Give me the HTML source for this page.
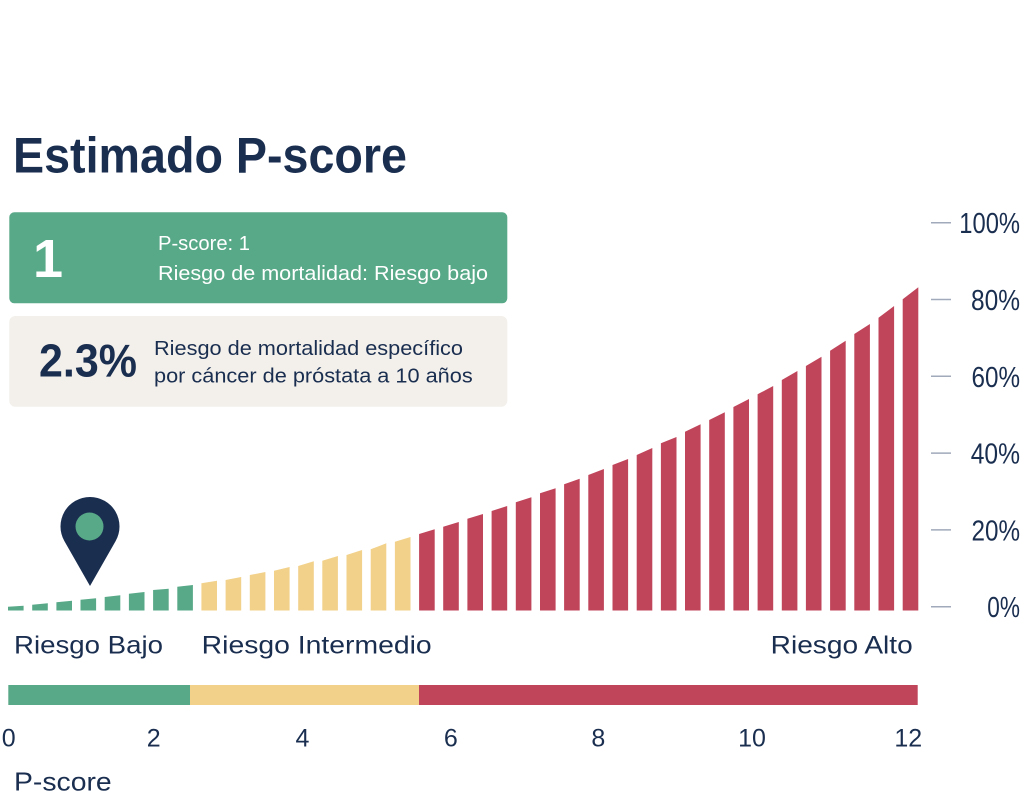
<!DOCTYPE html>
<html>
<head>
<meta charset="utf-8">
<style>
  html,body{margin:0;padding:0;background:#ffffff;}
  svg{display:block;}
  text{font-family:"Liberation Sans", sans-serif;}
</style>
</head>
<body>
<svg width="1024" height="802" viewBox="0 0 1024 802" xmlns="http://www.w3.org/2000/svg">
  <rect x="0" y="0" width="1024" height="802" fill="#ffffff"/>

  <!-- Title -->
  <text x="13" y="172.7" font-size="50" font-weight="bold" fill="#1a2e50" textLength="394" lengthAdjust="spacingAndGlyphs">Estimado P-score</text>

  <!-- Green box -->
  <rect x="9.3" y="212.3" width="498" height="91" rx="5" fill="#58a988"/>
  <text x="33" y="277" font-size="54" font-weight="bold" fill="#ffffff">1</text>
  <text x="158" y="250" font-size="20" fill="#ffffff" textLength="92" lengthAdjust="spacingAndGlyphs">P-score: 1</text>
  <text x="158" y="280" font-size="20" fill="#ffffff" textLength="330" lengthAdjust="spacingAndGlyphs">Riesgo de mortalidad: Riesgo bajo</text>

  <!-- Beige box -->
  <rect x="9.3" y="316" width="498" height="90.7" rx="6" fill="#f3f0eb"/>
  <text x="39" y="376.7" font-size="46" font-weight="bold" fill="#1a2e50" textLength="98" lengthAdjust="spacingAndGlyphs">2.3%</text>
  <text x="154" y="355" font-size="20" fill="#1a2e50" textLength="309" lengthAdjust="spacingAndGlyphs">Riesgo de mortalidad específico</text>
  <text x="154" y="382.7" font-size="20" fill="#1a2e50" textLength="318.7" lengthAdjust="spacingAndGlyphs">por cáncer de próstata a 10 años</text>

  <!-- Right axis ticks -->
  <g stroke="#a0aabb" stroke-width="1.5">
    <line x1="931" y1="222.7" x2="951" y2="222.7"/>
    <line x1="931" y1="299.5" x2="951" y2="299.5"/>
    <line x1="931" y1="376.3" x2="951" y2="376.3"/>
    <line x1="931" y1="453.1" x2="951" y2="453.1"/>
    <line x1="931" y1="529.9" x2="951" y2="529.9"/>
    <line x1="931" y1="606.7" x2="951" y2="606.7"/>
  </g>
  <g font-size="29" fill="#1a2e50" text-anchor="end">
    <text x="1020" y="233.2" textLength="60.7" lengthAdjust="spacingAndGlyphs">100%</text>
    <text x="1020" y="310" textLength="49" lengthAdjust="spacingAndGlyphs">80%</text>
    <text x="1020" y="386.8" textLength="48.5" lengthAdjust="spacingAndGlyphs">60%</text>
    <text x="1020" y="463.6" textLength="49.3" lengthAdjust="spacingAndGlyphs">40%</text>
    <text x="1020" y="540.4" textLength="48.5" lengthAdjust="spacingAndGlyphs">20%</text>
    <text x="1020" y="617.2" textLength="32.7" lengthAdjust="spacingAndGlyphs">0%</text>
  </g>

  <!-- Bars: green -->
  <g fill="#58a988">
    <polygon points="8,610.5 8,606.7 23.6,605.7 23.6,610.5"/>
    <polygon points="32.2,610.5 32.2,604.7 47.8,603.3 47.8,610.5"/>
    <polygon points="56.4,610.5 56.4,602.3 72,600.7 72,610.5"/>
    <polygon points="80.5,610.5 80.5,599.7 96.1,598.3 96.1,610.5"/>
    <polygon points="104.7,610.5 104.7,597 120.3,595.3 120.3,610.5"/>
    <polygon points="128.9,610.5 128.9,593.7 144.5,592 144.5,610.5"/>
    <polygon points="153.1,610.5 153.1,590 168.7,588.7 168.7,610.5"/>
    <polygon points="177.3,610.5 177.3,586.7 192.9,585 192.9,610.5"/>
  </g>
  <!-- Bars: yellow -->
  <g fill="#f2d18a">
    <polygon points="201.4,610.5 201.4,583.3 217,580.7 217,610.5"/>
    <polygon points="225.6,610.5 225.6,580 241.2,577 241.2,610.5"/>
    <polygon points="249.8,610.5 249.8,575 265.4,572 265.4,610.5"/>
    <polygon points="274,610.5 274,570.7 289.6,567 289.6,610.5"/>
    <polygon points="298.2,610.5 298.2,566 313.8,561.3 313.8,610.5"/>
    <polygon points="322.3,610.5 322.3,560.7 337.9,556 337.9,610.5"/>
    <polygon points="346.5,610.5 346.5,555 362.1,550 362.1,610.5"/>
    <polygon points="370.7,610.5 370.7,549.3 386.3,543.3 386.3,610.5"/>
    <polygon points="394.9,610.5 394.9,541.7 410.5,537 410.5,610.5"/>
  </g>
  <!-- Bars: red -->
  <g fill="#c0445a">
    <polygon points="419.1,610.5 419.1,534 434.7,529.3 434.7,610.5"/>
    <polygon points="443.2,610.5 443.2,526.7 458.8,522 458.8,610.5"/>
    <polygon points="467.4,610.5 467.4,518.7 483,514 483,610.5"/>
    <polygon points="491.6,610.5 491.6,511 507.2,506 507.2,610.5"/>
    <polygon points="515.8,610.5 515.8,502.3 531.4,497.3 531.4,610.5"/>
    <polygon points="540,610.5 540,493.3 555.6,488.3 555.6,610.5"/>
    <polygon points="564.1,610.5 564.1,484.3 579.7,478.7 579.7,610.5"/>
    <polygon points="588.3,610.5 588.3,475 603.9,469 603.9,610.5"/>
    <polygon points="612.5,610.5 612.5,465 628.1,459 628.1,610.5"/>
    <polygon points="636.7,610.5 636.7,455 652.3,448 652.3,610.5"/>
    <polygon points="660.9,610.5 660.9,443.3 676.5,437 676.5,610.5"/>
    <polygon points="685,610.5 685,431.7 700.6,424.3 700.6,610.5"/>
    <polygon points="709.2,610.5 709.2,420 724.8,412.3 724.8,610.5"/>
    <polygon points="733.4,610.5 733.4,407 749,399 749,610.5"/>
    <polygon points="757.6,610.5 757.6,394.3 773.2,386 773.2,610.5"/>
    <polygon points="781.8,610.5 781.8,380 797.4,371 797.4,610.5"/>
    <polygon points="805.9,610.5 805.9,366 821.5,356.7 821.5,610.5"/>
    <polygon points="830.1,610.5 830.1,350.7 845.7,340.7 845.7,610.5"/>
    <polygon points="854.3,610.5 854.3,334 869.9,324 869.9,610.5"/>
    <polygon points="878.5,610.5 878.5,317.7 894.1,306 894.1,610.5"/>
    <polygon points="902.7,610.5 902.7,299.3 918.3,287.3 918.3,610.5"/>
  </g>

  <!-- Pin marker -->
  <path d="M90,586 L64.4,541.1 A29.5,29.5 0 1,1 115.6,541.1 Z" fill="#1a2e50"/>
  <circle cx="89.5" cy="526.5" r="14" fill="#58a988"/>

  <!-- Risk labels -->
  <g font-size="25" fill="#1a2e50">
    <text x="14" y="653.3" textLength="149" lengthAdjust="spacingAndGlyphs">Riesgo Bajo</text>
    <text x="201.7" y="653.3" textLength="230" lengthAdjust="spacingAndGlyphs">Riesgo Intermedio</text>
    <text x="770.7" y="653.3" textLength="142" lengthAdjust="spacingAndGlyphs">Riesgo Alto</text>
  </g>

  <!-- Scale band -->
  <rect x="8.3" y="685" width="181.7" height="20" fill="#58a988"/>
  <rect x="190" y="685" width="229" height="20" fill="#f2d18a"/>
  <rect x="419" y="685" width="498.7" height="20" fill="#c0445a"/>

  <!-- X tick numbers -->
  <g font-size="25" fill="#1a2e50" text-anchor="middle">
    <text x="8.7" y="746.5">0</text>
    <text x="153.7" y="746.5">2</text>
    <text x="302.5" y="746.5">4</text>
    <text x="450.8" y="746.5">6</text>
    <text x="598.3" y="746.5">8</text>
    <text x="752" y="746.5">10</text>
    <text x="908.3" y="746.5">12</text>
  </g>

  <!-- Axis title -->
  <text x="14" y="790.7" font-size="26" fill="#1a2e50" textLength="97.7" lengthAdjust="spacingAndGlyphs">P-score</text>
</svg>
</body>
</html>
